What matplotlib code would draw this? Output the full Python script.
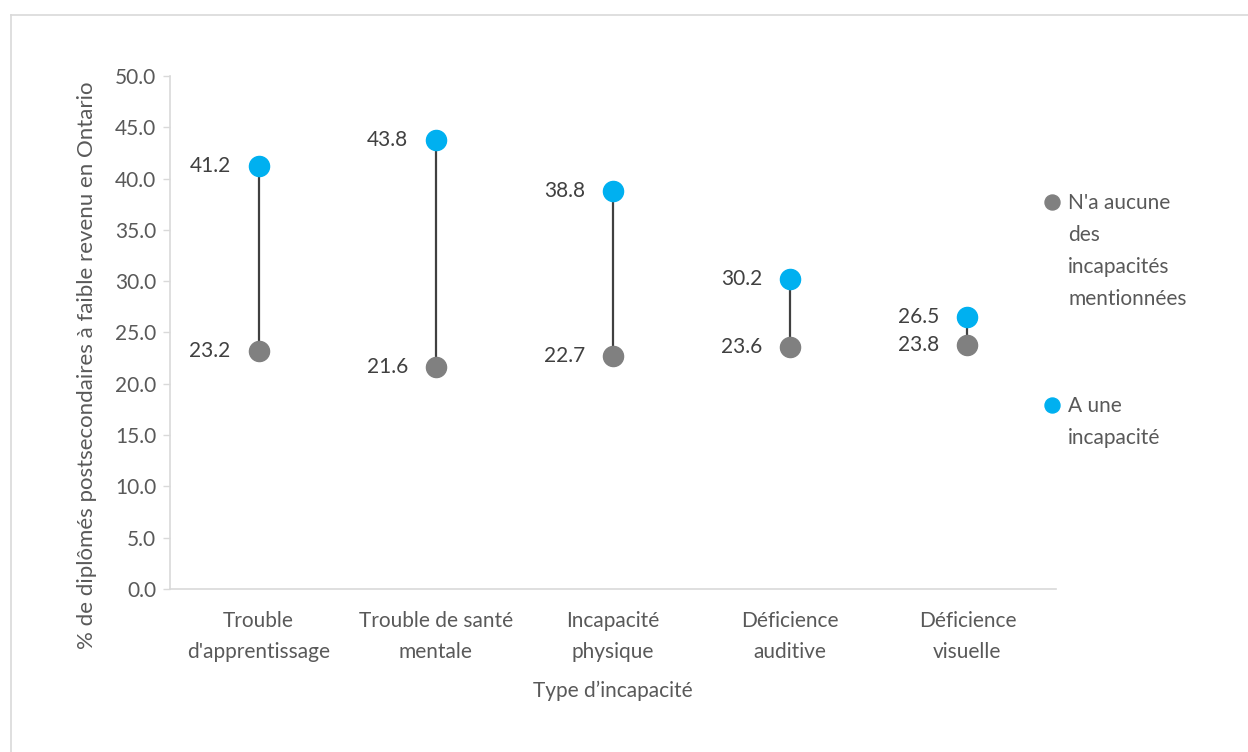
import numpy as np
import matplotlib
matplotlib.use("Agg")
import matplotlib.pyplot as plt
from matplotlib.lines import Line2D

plt.rcParams['font.family'] = ['Lato', 'DejaVu Sans']

# data
categories = ["Trouble\nd'apprentissage", "Trouble de santé\nmentale",
              "Incapacité\nphysique", "Déficience\nauditive", "Déficience\nvisuelle"]
no_disability = [23.2, 21.6, 22.7, 23.6, 23.8]
has_disability = [41.2, 43.8, 38.8, 30.2, 26.5]
label_none = "N'a aucune\ndes\nincapacités\nmentionnées"
label_has = "A une\nincapacité"

GRAY = "#808080"
BLUE = "#00B0F0"
TEXT = "#595959"
LINE = "#d9d9d9"
FS = 15

fig = plt.figure(figsize=(12.48, 7.52), dpi=100)
ax = fig.add_axes([0.1362, 0.2168, 0.8462 - 0.1362, 0.8989 - 0.2168])

x = np.arange(len(categories))
ax.vlines(x, no_disability, has_disability, color="#404040", lw=1.6, zorder=1)
ax.scatter(x, no_disability, s=210, color=GRAY, zorder=3)
ax.scatter(x, has_disability, s=210, color=BLUE, zorder=3)

for xi, lo, hi in zip(x, no_disability, has_disability):
    ax.annotate(f"{lo:.1f}", (xi, lo), xytext=(-28, 0), textcoords="offset pixels",
                ha="right", va="center", fontsize=FS, color="#404040")
    ax.annotate(f"{hi:.1f}", (xi, hi), xytext=(-28, 0), textcoords="offset pixels",
                ha="right", va="center", fontsize=FS, color="#404040")

ax.set_xlim(-0.5, len(categories) - 0.5)
ax.set_ylim(0, 50)
ax.set_yticks(np.arange(0, 50.1, 5))
ax.yaxis.set_major_formatter(matplotlib.ticker.FormatStrFormatter("%.1f"))
ax.set_xticks(x)
ax.set_xticklabels(categories)
for t in ax.get_xticklabels():
    t.set_linespacing(1.7)
ax.tick_params(axis="y", length=5, width=1, color=LINE, labelsize=FS, labelcolor=TEXT, pad=5)
ax.tick_params(axis="x", length=0, labelsize=FS, labelcolor=TEXT, pad=16)

for side in ["top", "right"]:
    ax.spines[side].set_visible(False)
ax.spines["left"].set_color(LINE)
ax.spines["bottom"].set_color(LINE)
ax.spines["left"].set_linewidth(1.2)
ax.spines["bottom"].set_linewidth(1.2)

ax.set_xlabel("Type d\u2019incapacité", fontsize=FS, color=TEXT, labelpad=13)
ax.set_ylabel("% de diplômés postsecondaires à faible revenu en Ontario",
              fontsize=16, color=TEXT)
ax.yaxis.set_label_coords(-0.0824, 0.4366)

# legend drawn by hand so the marker sits on the first line of each label
for ymark, ytext, col, lab in [(0.7544, 0.7719, GRAY, label_none),
                               (0.3587, 0.3762, BLUE, label_has)]:
    ax.plot([0.9955], [ymark], "o", ms=10.8, color=col, transform=ax.transAxes, clip_on=False)
    ax.text(1.0135, ytext, lab, transform=ax.transAxes, ha="left", va="top",
            fontsize=FS, color=TEXT, linespacing=1.75)

# chart frame (only top and left edges are visible in the reference)
fig.add_artist(Line2D([11 / 1248, 1.0], [1 - 15 / 752, 1 - 15 / 752],
                      transform=fig.transFigure, color=LINE, lw=1.2))
fig.add_artist(Line2D([11 / 1248, 11 / 1248], [0, 1 - 15 / 752],
                      transform=fig.transFigure, color=LINE, lw=1.2))

fig.savefig("out.png", dpi=100)
